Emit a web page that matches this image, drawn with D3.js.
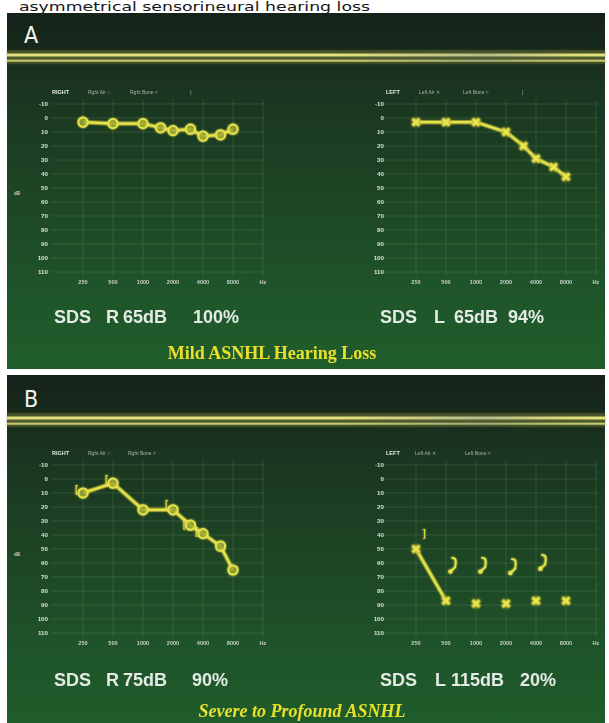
<!DOCTYPE html>
<html><head><meta charset="utf-8">
<script src="https://cdn.jsdelivr.net/npm/d3@7"></script>
<style>html,body{margin:0;padding:0;background:#fff;overflow:hidden}</style>
</head><body>
<svg id="c" width="609" height="723"></svg>
<script>
// ---------- data ----------
const caption = "asymmetrical sensorineural hearing loss";
const panelLetters = ["A", "B"];
const titles = ["Mild ASNHL Hearing Loss", "Severe to Profound ASNHL"];

const freqTicks = [250, 500, 1000, 2000, 4000, 8000];
const freqTickLabels = ["250", "500", "1000", "2000", "4000", "8000"];
const dbTicks = [-10, 0, 10, 20, 30, 40, 50, 60, 70, 80, 90, 100, 110];

// Panel A
const aRightFreq = [250, 500, 1000, 1500, 2000, 3000, 4000, 6000, 8000];
const aRightAir  = [3, 4, 4, 7, 9, 8, 13, 12, 8];
const aLeftFreq  = [250, 500, 1000, 2000, 3000, 4000, 6000, 8000];
const aLeftAir   = [3, 3, 3, 10, 20, 29, 35, 42];

// Panel B
const bRightFreq = [250, 500, 1000, 2000, 3000, 4000, 6000, 8000];
const bRightAir  = [10, 3, 22, 22, 33, 39, 48, 65];
const bRightBoneFreq = [250, 500, 2000, 3000, 4000];
const bRightBone     = [7, 0, 18, 32, 37];
const bLeftFreq  = [250, 500, 1000, 2000, 4000, 8000];
const bLeftAir   = [50, 87, 89, 89, 87, 87];
const bLeftConnected = [true, true, false, false, false, false];
const bLeftBoneFreq = [250];
const bLeftBone     = [39];
const bLeftBoneNRFreq = [500, 1000, 2000, 4000];
const bLeftBoneNR     = [62, 62, 63, 60];

const sdsA = [["SDS", "R", "65dB", "100%"], ["SDS", "L", "65dB", "94%"]];
const sdsB = [["SDS", "R", "75dB", "90%"], ["SDS", "L", "115dB", "20%"]];

const legendA = [["RIGHT", "Rght Air ○", "Rght Bone <", ")"], ["LEFT", "Left Air ✕", "Left Bone >", "]"]];
const legendB = [["RIGHT", "Rght Air ○", "Rght Bone <"], ["LEFT", "Left Air ✕", "Left Bone >"]];

// ---------- drawing ----------
const svg = d3.select("#c");
const defs = svg.append("defs");
const bg = defs.append("linearGradient").attr("id", "bg").attr("x1", 0).attr("y1", 0).attr("x2", 0).attr("y2", 1);
[[0, "#15231a"], [0.1, "#17291c"], [0.2, "#1a3420"], [0.5, "#1d4524"], [0.8, "#1f552a"], [1, "#1f5d2b"]]
  .forEach(([o, c]) => bg.append("stop").attr("offset", o).attr("stop-color", c));
const bandG = defs.append("linearGradient").attr("id", "band").attr("x1", 0).attr("x2", 1).attr("y1", 0).attr("y2", 0);
[[0, "#e2e07a"], [0.55, "#e4e27c"], [0.8, "#b9bb8c"], [0.95, "#e0de7a"], [1, "#e4e27c"]]
  .forEach(([o, c]) => bandG.append("stop").attr("offset", o).attr("stop-color", c));
const glow = defs.append("filter").attr("id", "glow").attr("x", "-20%").attr("y", "-20%").attr("width", "140%").attr("height", "140%");
glow.append("feGaussianBlur").attr("in", "SourceGraphic").attr("stdDeviation", 1.3).attr("result", "b");
const fm = glow.append("feMerge");
fm.append("feMergeNode").attr("in", "b");
fm.append("feMergeNode").attr("in", "SourceGraphic");
const soft = defs.append("filter").attr("id", "soft");
soft.append("feGaussianBlur").attr("stdDeviation", 0.35);

const yScale = d3.scaleLinear().domain([-10, 110]).range([104, 272]);
const xRight = d3.scaleLog().base(2).domain([250, 8000]).range([83, 233]);
const xLeft  = d3.scaleLog().base(2).domain([250, 8000]).range([416, 566]);

const YEL = "#e6e24a";

const panels = [
  { off: 0, top: 13, letterY: 43, bandY: 51.5, line20: true, sds: sdsA, sdsY: 323,
    sdsX: [[54, 106, 123, 193], [380, 434, 454, 508]], title: titles[0], titleX: 272, titleY: 359,
    italic: false, legend: legendA,
    legendX: [[52, 88, 130, 190], [386, 419, 463, 522]] },
  { off: 361, top: 14, letterY: 46, bandY: 53.5, line20: false, sds: sdsB, sdsY: 324.5,
    sdsX: [[54, 106, 123, 192], [380, 435, 451, 520]], title: titles[1], titleX: 302, titleY: 356,
    italic: true, legend: legendB,
    legendX: [[52, 88, 128], [386, 415, 465]] }
];

function drawAxes(g, x, yLabelEnd) {
  const grid = g.append("g").attr("filter", "url(#soft)");
  const x0 = x(250) - 32, x1 = x(16000) + 2;
  grid.selectAll("line.h").data(dbTicks).join("line")
    .attr("x1", x0).attr("x2", x1)
    .attr("y1", d => yScale(d)).attr("y2", d => yScale(d))
    .attr("stroke", "rgba(170,210,170,0.14)").attr("stroke-width", 1);
  grid.selectAll("line.v").data(freqTicks.concat([16000])).join("line")
    .attr("x1", d => x(d)).attr("x2", d => x(d))
    .attr("y1", yScale(-13)).attr("y2", yScale(113))
    .attr("stroke", "rgba(170,210,170,0.14)").attr("stroke-width", 1);
  g.selectAll("text.yt").data(dbTicks).join("text")
    .attr("x", yLabelEnd).attr("y", d => yScale(d)).attr("dy", "0.35em")
    .attr("text-anchor", "end").attr("font-family", "'Liberation Sans',Arial,sans-serif")
    .attr("font-weight", "bold").attr("font-size", 6.2).attr("fill", "#d8e0d8")
    .attr("filter", "url(#soft)").text(d => d);
  g.selectAll("text.xt").data(freqTickLabels.concat(["Hz"])).join("text")
    .attr("x", (d, i) => x(i < freqTicks.length ? freqTicks[i] : 16000)).attr("y", 284)
    .attr("text-anchor", "middle").attr("font-family", "'Liberation Sans',Arial,sans-serif")
    .attr("font-weight", "bold").attr("font-size", 5.6).attr("fill", "#c8d0c8")
    .attr("filter", "url(#soft)").text(d => d);
}

function drawLine(g, x, fr, vals) {
  const pts = fr.map((f, i) => [f, vals[i]]);
  const line = d3.line().x(d => x(d[0])).y(d => yScale(d[1]));
  g.append("path").attr("d", line(pts)).attr("fill", "none")
    .attr("stroke", "#bdb834").attr("stroke-width", 4.5).attr("opacity", 0.45);
  g.append("path").attr("d", line(pts)).attr("fill", "none")
    .attr("stroke", YEL).attr("stroke-width", 2.2).attr("filter", "url(#glow)");
}
function drawCircles(g, x, fr, vals) {
  g.selectAll(null).data(fr.map((f, i) => [f, vals[i]])).join("circle")
    .attr("cx", d => x(d[0])).attr("cy", d => yScale(d[1])).attr("r", 4.6)
    .attr("fill", "rgba(150,160,50,0.55)").attr("stroke", YEL).attr("stroke-width", 2)
    .attr("filter", "url(#glow)");
}
function drawX(g, x, fr, vals, size) {
  const sym = d3.symbol(d3.symbolCross, size || 48);
  g.selectAll(null).data(fr.map((f, i) => [f, vals[i]])).join("path")
    .attr("d", sym)
    .attr("transform", d => `translate(${x(d[0])},${yScale(d[1])}) rotate(45)`)
    .attr("fill", "#ece84e").attr("stroke", "#b4ae30").attr("stroke-width", 0.6)
    .attr("filter", "url(#glow)");
}
function drawBracket(g, x, fr, vals, ch, dx) {
  g.selectAll(null).data(fr.map((f, i) => [f, vals[i]])).join("text")
    .attr("x", d => x(d[0]) + dx).attr("y", d => yScale(d[1])).attr("dy", "0.35em")
    .attr("text-anchor", "middle").attr("font-family", "'DejaVu Sans',sans-serif")
    .attr("font-size", 11).attr("fill", YEL).attr("filter", "url(#glow)").text(ch);
}
function drawNR(g, x, fr, vals, dx) {
  const sel = g.selectAll(null).data(fr.map((f, i) => [f, vals[i]])).join("g")
    .attr("transform", d => `translate(${x(d[0]) + dx},${yScale(d[1])})`)
    .attr("filter", "url(#glow)");
  sel.append("path").attr("d", "M-1,-8 L1.5,-7.5 Q3.2,-6 2.6,-2.5 L2.2,1.5 L-2.5,5.5")
    .attr("fill", "none").attr("stroke", YEL).attr("stroke-width", 1.8).attr("stroke-linecap", "round");
  sel.append("circle").attr("cx", -2.6).attr("cy", 5.8).attr("r", 2.2).attr("fill", YEL);
}

panels.forEach((p, pi) => {
  const g = svg.append("g").attr("transform", `translate(0,${p.off})`);
  g.append("rect").attr("x", 7).attr("y", p.top).attr("width", 598).attr("height", 356).attr("fill", "url(#bg)");
  g.append("text").attr("x", 24).attr("y", p.letterY)
    .attr("font-family", "'Liberation Sans Narrow','DejaVu Sans Condensed',sans-serif")
    .attr("font-size", 23).attr("fill", "#f2f4f2").text(panelLetters[pi]);
  // band
  g.append("rect").attr("x", 7).attr("y", p.bandY - 1).attr("width", 598).attr("height", 13)
    .attr("fill", "#6c7434").attr("opacity", 0.55).attr("filter", "url(#glow)");
  g.append("rect").attr("x", 7).attr("y", p.bandY + 2).attr("width", 598).attr("height", 3.2)
    .attr("fill", "url(#band)").attr("filter", "url(#soft)");
  g.append("rect").attr("x", 7).attr("y", p.bandY + 5.2).attr("width", 598).attr("height", 3)
    .attr("fill", "#4f5c2e");
  g.append("rect").attr("x", 7).attr("y", p.bandY + 8.2).attr("width", 598).attr("height", 2)
    .attr("fill", "url(#band)").attr("opacity", 0.85).attr("filter", "url(#soft)");

  const gr = g.append("g"), gl = g.append("g");
  drawAxes(gr, xRight, 48);
  drawAxes(gl, xLeft, 384);
  g.append("text").attr("x", 17).attr("y", 195).attr("text-anchor", "middle")
    .attr("font-family", "'Liberation Sans',Arial,sans-serif").attr("font-size", 4.5)
    .attr("font-weight", "bold").attr("fill", "#c8d0c8").text("dB");

  // legends
  [0, 1].forEach(side => {
    p.legend[side].forEach((t, i) => {
      g.append("text").attr("x", p.legendX[side][i]).attr("y", 94)
        .attr("font-family", "'Liberation Sans',Arial,sans-serif")
        .attr("font-size", i === 0 ? 5.5 : 5).attr("font-weight", i === 0 ? "bold" : "normal")
        .attr("fill", i === 0 ? "#e0e6e0" : "#a8b4a8").attr("filter", "url(#soft)").text(t);
    });
  });

  if (p.line20) {
    g.append("line").attr("x1", 50).attr("x2", 593)
      .attr("y1", yScale(20)).attr("y2", yScale(20))
      .attr("stroke", "#cfcb6c").attr("stroke-width", 1.8).attr("filter", "url(#soft)");
  }

  if (pi === 0) {
    drawLine(gr, xRight, aRightFreq, aRightAir);
    drawCircles(gr, xRight, aRightFreq, aRightAir);
    drawLine(gl, xLeft, aLeftFreq, aLeftAir);
    drawX(gl, xLeft, aLeftFreq, aLeftAir, 50);
  } else {
    drawLine(gr, xRight, bRightFreq, bRightAir);
    drawBracket(gr, xRight, bRightBoneFreq, bRightBone, "[", -6);
    drawCircles(gr, xRight, bRightFreq, bRightAir);
    const cf = bLeftFreq.filter((f, i) => bLeftConnected[i]);
    const cv = bLeftAir.filter((v, i) => bLeftConnected[i]);
    drawLine(gl, xLeft, cf, cv);
    drawX(gl, xLeft, bLeftFreq, bLeftAir, 50);
    drawBracket(gl, xLeft, bLeftBoneFreq, bLeftBone, "]", 8);
    drawNR(gl, xLeft, bLeftBoneNRFreq, bLeftBoneNR, 7);
  }

  // SDS
  [0, 1].forEach(side => {
    p.sds[side].forEach((w, i) => {
      g.append("text").attr("x", p.sdsX[side][i]).attr("y", p.sdsY)
        .attr("font-family", "'Liberation Sans',Arial,sans-serif").attr("font-weight", "bold")
        .attr("font-size", 18).attr("fill", "#e4eae4").attr("filter", "url(#soft)").text(w);
    });
  });

  g.append("text").attr("x", p.titleX).attr("y", p.titleY).attr("text-anchor", "middle")
    .attr("font-family", "'Liberation Serif','Times New Roman',serif").attr("font-weight", "bold")
    .attr("font-style", p.italic ? "italic" : "normal")
    .attr("font-size", 18).attr("fill", "#e8e02a").attr("filter", "url(#soft)").text(p.title);
});

// caption above panel A (kept fully visible)
svg.append("text").attr("x", 19).attr("y", 10.5)
  .attr("font-family", "'Liberation Sans Narrow','DejaVu Sans Condensed',Roboto,sans-serif")
  .attr("font-size", 12.5).attr("fill", "#161616")
  .attr("textLength", 351).attr("lengthAdjust", "spacingAndGlyphs")
  .text(caption);
</script>
</body></html>
